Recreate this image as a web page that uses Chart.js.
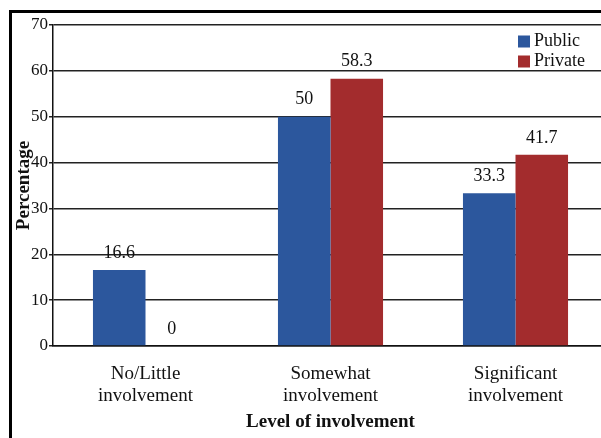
<!DOCTYPE html>
<html>
<head>
<meta charset="utf-8">
<script src="https://cdn.jsdelivr.net/npm/chart.js@4"></script>
<style>
  html, body { margin: 0; padding: 0; background: #fff; overflow: hidden; width: 601px; height: 438px; }
  #wrap { position: absolute; left: 0; top: 0; width: 620px; height: 438px; }
</style>
</head>
<body>
<div id="wrap"><canvas id="c" width="620" height="438"></canvas></div>
<script>
const categories = [['No/Little', 'involvement'], ['Somewhat', 'involvement'], ['Significant', 'involvement']];
const publicValues = [16.6, 50, 33.3];
const privateValues = [0, 58.3, 41.7];
const seriesNames = ['Public', 'Private'];
const yTicks = [0, 10, 20, 30, 40, 50, 60, 70];

const SERIF = '"Liberation Serif", "DejaVu Serif", serif';

const framePlugin = {
  id: 'frame',
  beforeDraw(chart) {
    const ctx = chart.ctx;
    ctx.save();
    ctx.fillStyle = '#fff';
    ctx.fillRect(0, 0, chart.width, chart.height);
    ctx.strokeStyle = '#000';
    ctx.lineWidth = 3;
    ctx.strokeRect(10.5, 11.5, 800, 600);
    ctx.restore();
  }
};

const labelPlugin = {
  id: 'valueLabels',
  afterDatasetsDraw(chart) {
    const ctx = chart.ctx;
    ctx.save();
    ctx.font = '18px ' + SERIF;
    ctx.fillStyle = '#111';
    ctx.textAlign = 'center';
    ctx.textBaseline = 'middle';
    chart.data.datasets.forEach((ds, i) => {
      chart.getDatasetMeta(i).data.forEach((bar, j) => {
        ctx.fillText(String(ds.data[j]), bar.x, bar.y - 17);
      });
    });
    ctx.restore();
  }
};

const legendPlugin = {
  id: 'innerLegend',
  afterDraw(chart) {
    const ctx = chart.ctx;
    ctx.save();
    ctx.font = '18px ' + SERIF;
    ctx.textBaseline = 'middle';
    ctx.textAlign = 'left';
    chart.data.datasets.forEach((ds, i) => {
      const y = 41 + i * 20;
      ctx.fillStyle = ds.backgroundColor;
      ctx.fillRect(518, y - 5.5, 12, 12);
      ctx.fillStyle = '#111';
      ctx.fillText(ds.label, 534, y);
    });
    ctx.restore();
  }
};

new Chart(document.getElementById('c'), {
  type: 'bar',
  data: {
    labels: categories,
    datasets: [
      { label: seriesNames[0], data: publicValues, backgroundColor: '#2c579d', categoryPercentage: 0.568, barPercentage: 1 },
      { label: seriesNames[1], data: privateValues, backgroundColor: '#a32c2d', categoryPercentage: 0.568, barPercentage: 1 }
    ]
  },
  options: {
    responsive: false,
    animation: false,
    devicePixelRatio: 1,
    layout: { padding: { left: 0, top: 25, right: 12, bottom: 0 } },
    plugins: { legend: { display: false }, tooltip: { enabled: false } },
    scales: {
      x: {
        afterFit(s) { s.height = 92; },
        grid: { display: false, drawTicks: false },
        border: { display: true, color: '#111', width: 1.5 },
        ticks: { color: '#111', font: { family: SERIF, size: 19, lineHeight: 1.17 }, padding: 17, maxRotation: 0 },
        title: { display: true, text: 'Level of involvement', color: '#111', font: { family: SERIF, size: 19, weight: 'bold' }, padding: { top: 0, bottom: 5 } }
      },
      y: {
        min: 0, max: 70,
        afterFit(s) { s.width = 53; },
        afterBuildTicks(s) { s.ticks = yTicks.map(v => ({ value: v })); },
        grid: { color: '#222', lineWidth: 1.5, tickLength: 4, drawTicks: true },
        border: { display: true, color: '#111', width: 1.5 },
        ticks: { color: '#111', font: { family: SERIF, size: 17 }, padding: 1 },
        title: { display: true, text: 'Percentage', color: '#111', font: { family: SERIF, size: 19, weight: 'bold' }, padding: { top: 13, bottom: 0 } }
      }
    }
  },
  plugins: [framePlugin, labelPlugin, legendPlugin]
});
</script>
</body>
</html>
